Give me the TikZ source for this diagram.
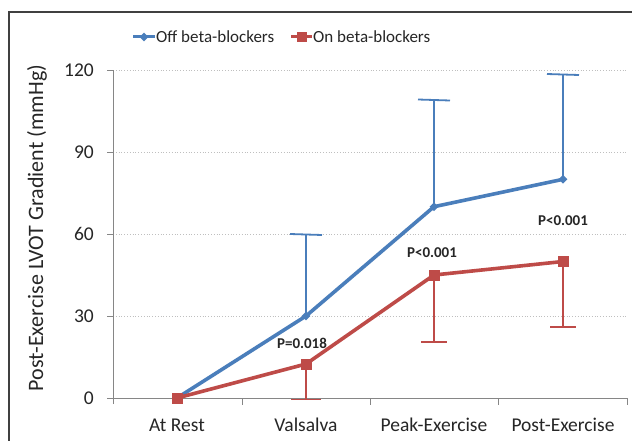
\documentclass[tikz,border=0pt]{standalone}
\usepackage{fontspec}
\setmainfont{Carlito}
\usetikzlibrary{shapes.geometric}
\definecolor{offblue}{HTML}{4A7EBB}
\definecolor{onred}{HTML}{BE4B48}
\definecolor{axgray}{HTML}{868686}
\definecolor{gridgray}{HTML}{BFBFBF}
\tikzset{
  dataline/.style={line width=3.6pt, line join=round},
  errbar/.style={line width=1.8pt},
  bluemark/.style={diamond, fill=offblue, inner sep=0pt, minimum size=9pt},
  redmark/.style={rectangle, fill=onred, inner sep=0pt, minimum size=11pt},
  ticklab/.style={font=\fontsize{19.5}{21}\selectfont, text=black!85},
  leglab/.style={font=\fontsize{17}{19}\selectfont, text=black!85, anchor=west, inner sep=0pt},
  plab/.style={font=\bfseries\fontsize{15}{17}\selectfont, text=black!85, inner sep=0pt},
  gridln/.style={gridgray, line width=0.8pt, dotted},
  axln/.style={axgray, line width=0.9pt}
}
\begin{document}
\begin{tikzpicture}[x=1pt, y=-1pt]
\useasboundingbox (0,0) rectangle (632,441);
\fill[white] (0,0) rectangle (632,441);
% frame
\draw[black!75, line width=1.4pt] (9,445) -- (9,12) -- (636,12);
% grid
\foreach \v/\py in {30/316, 60/234, 90/152, 120/70} {
  \draw[gridln] (113,\py) -- (627,\py);
}
% axes
\draw[axln] (113,404) -- (113,70);
\draw[axln] (113,398) -- (627,398);
\foreach \v/\py in {0/398, 30/316, 60/234, 90/152, 120/70} {
  \draw[axln] (107,\py) -- (113,\py);
  \node[ticklab, anchor=east, inner sep=0pt] (yt\v) at (94,\py) {\v};
}
\foreach \px in {242, 370, 498, 627} {
  \draw[axln] (\px,398) -- (\px,405);
}
\node[ticklab] (c1) at (177,425) {At Rest};
\node[ticklab] (c2) at (306,425) {Valsalva};
\node[ticklab] (c3) at (434,425) {Peak-Exercise};
\node[ticklab] (c4) at (563,425) {Post-Exercise};
\node[font=\fontsize{22}{24}\selectfont, text=black!85, rotate=90] (ylab) at (37,228) {Post-Exercise LVOT Gradient (mmHg)};
% legend
\coordinate (lb1) at (133,37); \coordinate (lb2) at (155,37);
\draw[offblue, line width=3pt] (lb1) -- (lb2);
\node[bluemark] (lbm) at (144,37) {};
\node[leglab] (lbt) at (156,37) {Off beta-blockers};
\coordinate (lr1) at (291,37); \coordinate (lr2) at (312,37);
\draw[onred, line width=3pt] (lr1) -- (lr2);
\node[redmark, minimum size=10pt] (lrm) at (301.5,37) {};
\node[leglab] (lrt) at (313,37) {On beta-blockers};
% blue data
\coordinate (b1) at (177,398);
\coordinate (b2) at (306,316);
\coordinate (b3) at (434,206.7);
\coordinate (b4) at (563,179.3);
\coordinate (be2) at (306,234);
\coordinate (be3) at (434,99.5);
\coordinate (be4) at (563,74);
\draw[offblue, errbar] (b2) -- (be2);
\draw[offblue, errbar] (b3) -- (be3);
\draw[offblue, errbar] (b4) -- (be4);
\draw[offblue, errbar] ([xshift=-16pt]be2) -- ([xshift=16pt,yshift=-1pt]be2);
\draw[offblue, errbar] ([xshift=-16pt]be3) -- ([xshift=16pt,yshift=-1pt]be3);
\draw[offblue, errbar] ([xshift=-16pt]be4) -- ([xshift=16pt,yshift=-1pt]be4);
% red data
\coordinate (r1) at (177,398);
\coordinate (r2) at (306,364);
\coordinate (r3) at (434,275);
\coordinate (r4) at (563,261.5);
\coordinate (re2) at (306,399.5);
\coordinate (re3) at (434,342);
\coordinate (re4) at (563,327);
\draw[onred, errbar] (r2) -- (re2);
\draw[onred, errbar] (r3) -- (re3);
\draw[onred, errbar] (r4) -- (re4);
\draw[onred, errbar] ([xshift=-15pt]re2) -- ([xshift=15pt]re2);
\draw[onred, errbar] ([xshift=-13pt]re3) -- ([xshift=13pt]re3);
\draw[onred, errbar] ([xshift=-13pt]re4) -- ([xshift=13pt]re4);
% lines
\draw[offblue, dataline] (b1) -- (b2) -- (b3) -- (b4);
\draw[onred, dataline] (r1) -- (r2) -- (r3) -- (r4);
\foreach \i in {1,2,3,4} { \node[bluemark] (bm\i) at (b\i) {}; }
\foreach \i in {1,2,3,4} { \node[redmark] (rm\i) at (r\i) {}; }
% p labels
\node[plab] (p1) at (302,343) {P=0.018};
\node[plab] (p2) at (432,253) {P<0.001};
\node[plab] (p3) at (563,221) {P<0.001};
\end{tikzpicture}
\end{document}
